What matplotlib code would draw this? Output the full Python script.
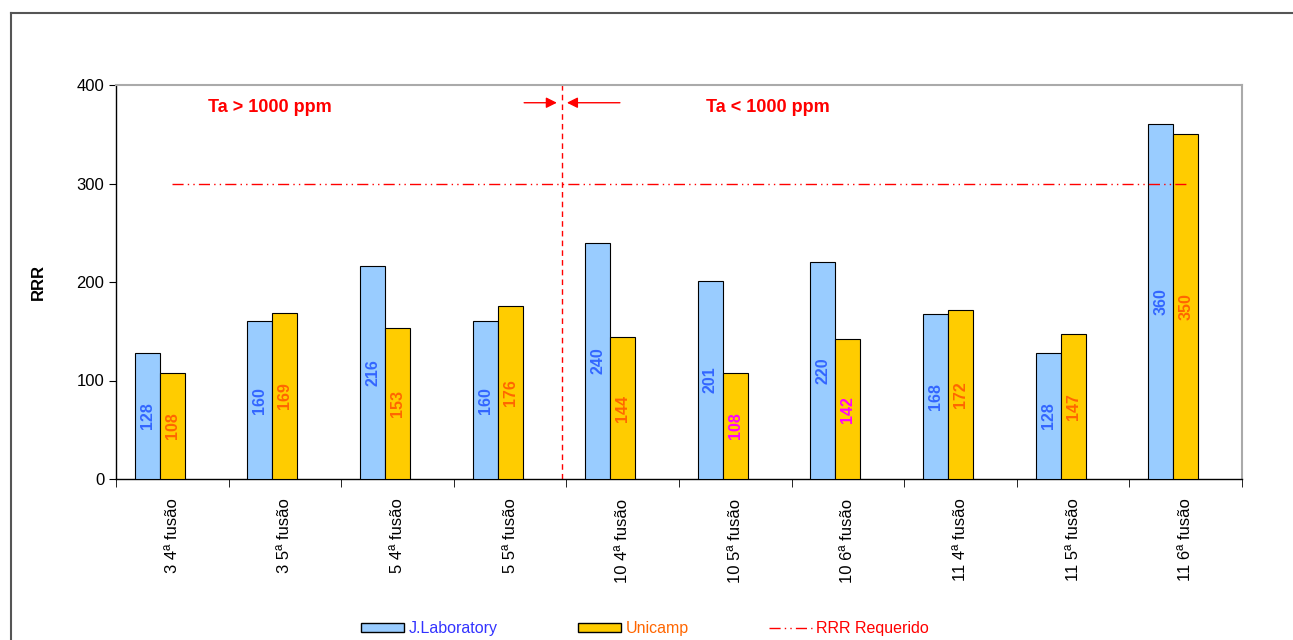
import numpy as np
import matplotlib.pyplot as plt
from matplotlib.patches import Patch
from matplotlib.lines import Line2D

plt.rcParams['font.family'] = ['Liberation Sans', 'DejaVu Sans']

categories = ['3 4ª fusão', '3 5ª fusão', '5 4ª fusão', '5 5ª fusão', '10 4ª fusão',
              '10 5ª fusão', '10 6ª fusão', '11 4ª fusão', '11 5ª fusão', '11 6ª fusão']
jlab = [128, 160, 216, 160, 240, 201, 220, 168, 128, 360]
unicamp = [108, 169, 153, 176, 144, 108, 142, 172, 147, 350]
unicamp_label_colors = ['#ff6600'] * 4 + ['#ff6600', '#ff00ff', '#ff00ff'] + ['#ff6600'] * 3
rrr_required = 300

blue = '#99ccff'
gold = '#ffcc00'

fig = plt.figure(figsize=(12.93, 6.4), dpi=100)
ax = fig.add_axes([116 / 1293, 1 - 479 / 640, 1126 / 1293, 394 / 640])

x = np.arange(len(categories))
w = 0.222
ax.bar(x - w, jlab, w, color=blue, edgecolor='black', linewidth=0.8, zorder=3)
ax.bar(x, unicamp, w, color=gold, edgecolor='black', linewidth=0.8, zorder=3)

for i in range(len(categories)):
    ax.text(x[i] - w, jlab[i] / 2, str(jlab[i]), rotation=90, ha='center', va='center',
            color='#3366ff', fontsize=11.5, fontweight='bold', zorder=5)
    ax.text(x[i], unicamp[i] / 2, str(unicamp[i]), rotation=90, ha='center', va='center',
            color=unicamp_label_colors[i], fontsize=11.5, fontweight='bold', zorder=5)

# required RRR line
ax.plot([x[0], x[-1]], [rrr_required, rrr_required], color='red', lw=1,
        dashes=(8, 3, 1, 3, 1, 3), zorder=4)

# separation at Ta = 1000 ppm
ax.axvline(3.46, color='red', lw=1, ls=(0, (4, 3)), zorder=2)
ax.annotate('', xy=(3.44, 382), xytext=(3.1, 382),
            arrowprops=dict(arrowstyle='-|>', color='red', lw=1, mutation_scale=16))
ax.annotate('', xy=(3.48, 382), xytext=(4.0, 382),
            arrowprops=dict(arrowstyle='-|>', color='red', lw=1, mutation_scale=16))
ax.text(0.87, 377, 'Ta > 1000 ppm', color='red', fontsize=13, fontweight='bold',
        ha='center', va='center')
ax.text(5.29, 377, 'Ta < 1000 ppm', color='red', fontsize=13, fontweight='bold',
        ha='center', va='center')

ax.set_xlim(-0.5, len(categories) - 0.5)
ax.set_ylim(0, 400)
ax.set_yticks([0, 100, 200, 300, 400])
ax.tick_params(axis='y', labelsize=12, length=5, direction='out')
ax.set_xticks(np.arange(len(categories) + 1) - 0.5, minor=True)
ax.set_xticks(x)
ax.set_xticklabels(categories, rotation=90, fontsize=12, va='top')
ax.tick_params(axis='x', which='major', length=0, pad=14)
ax.tick_params(axis='x', which='minor', length=6)
ax.set_ylabel('RRR', fontsize=12, fontweight='bold', labelpad=22)

for s in ['top', 'right']:
    ax.spines[s].set_color('#aaaaaa')
    ax.spines[s].set_linewidth(1.5)
for s in ['left', 'bottom']:
    ax.spines[s].set_color('black')
    ax.spines[s].set_linewidth(1)

# chart frame (left and top)
fig.add_artist(Line2D([11 / 1293, 11 / 1293], [0, 1 - 13 / 640], color='#555555', lw=1.5))
fig.add_artist(Line2D([11 / 1293, 1], [1 - 13 / 640, 1 - 13 / 640], color='#555555', lw=1.5))

handles = [Patch(facecolor=blue, edgecolor='black', label='J.Laboratory'),
           Patch(facecolor=gold, edgecolor='black', label='Unicamp'),
           Line2D([0], [0], color='red', lw=1, dashes=(8, 3, 1, 3, 1, 3), label='RRR Requerido')]
leg = fig.legend(handles=handles, loc='center', bbox_to_anchor=(645 / 1293, 1 - 629 / 640),
                 ncol=3, frameon=False, fontsize=11.5, handlelength=2.7, handleheight=0.5,
                 handletextpad=0.3, columnspacing=5.0)
for t, c in zip(leg.get_texts(), ['#3333ff', '#ff6600', '#ff0000']):
    t.set_color(c)

fig.savefig('out.png', dpi=100)
